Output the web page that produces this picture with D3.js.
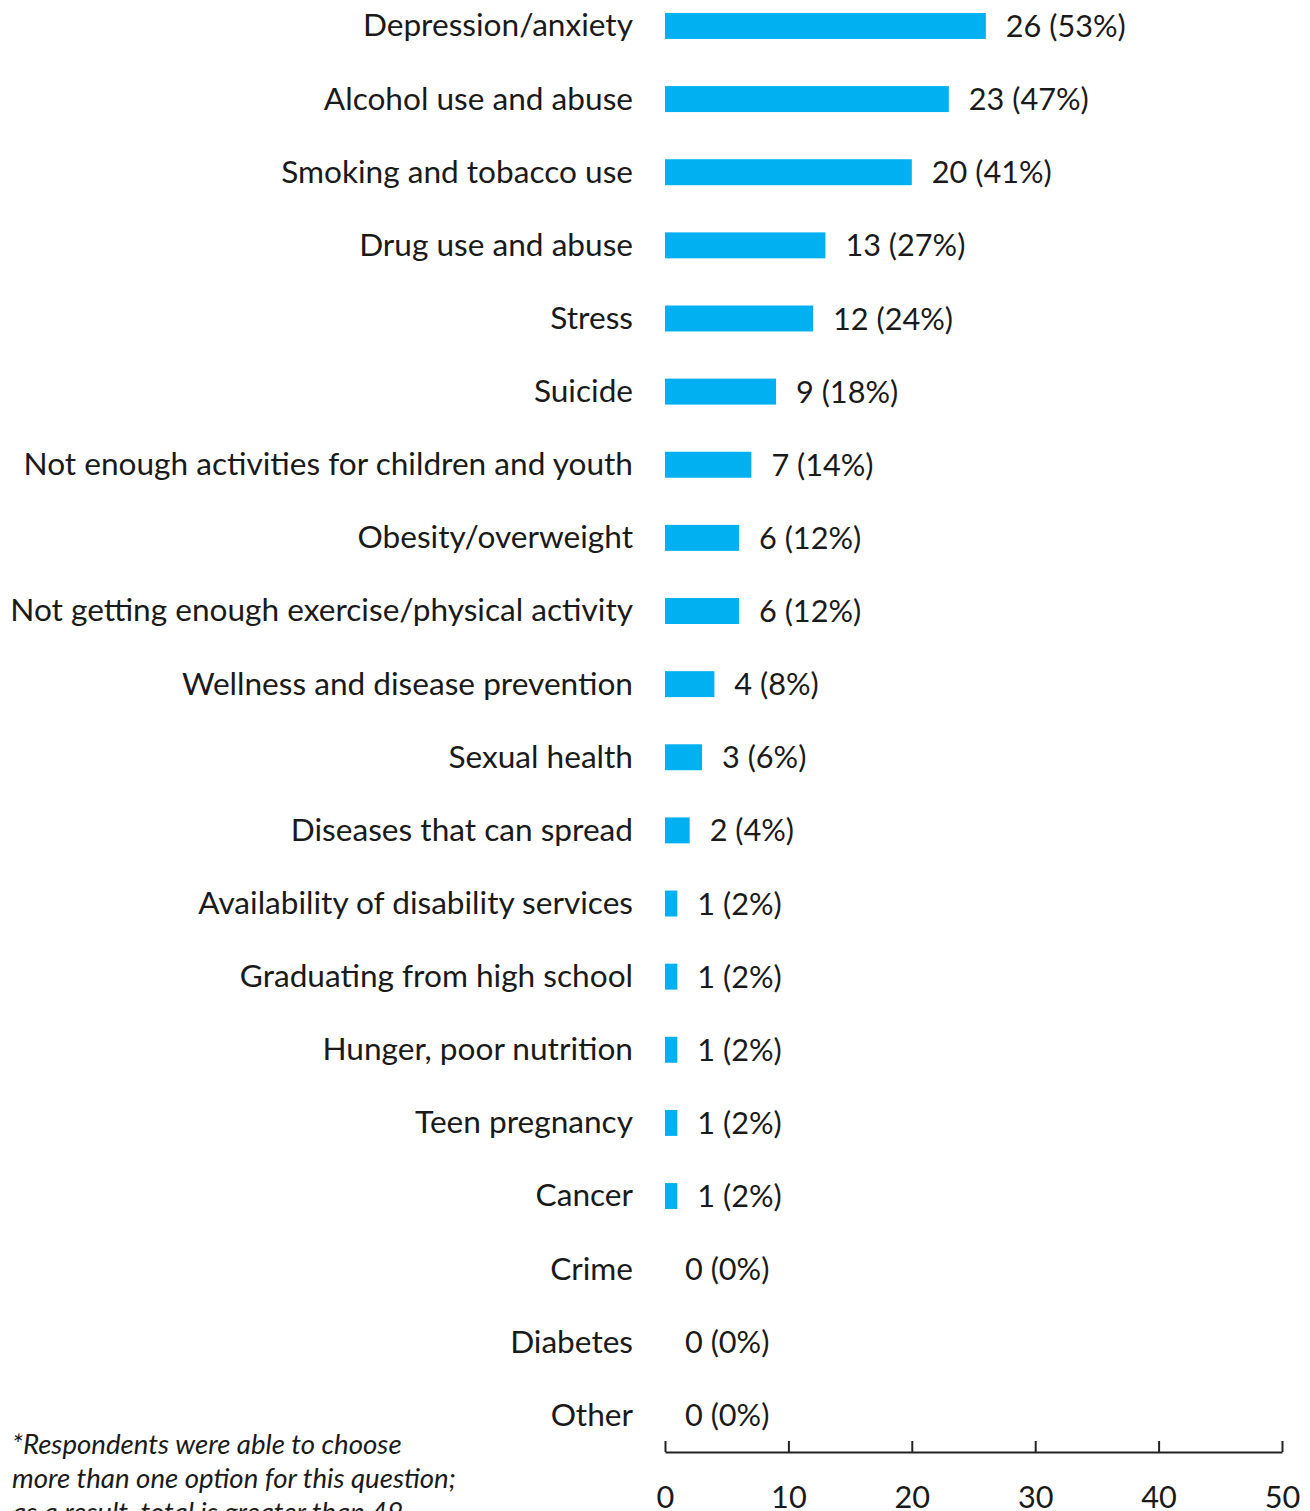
<!DOCTYPE html>
<html>
<head>
<meta charset="utf-8">
<script src="https://cdn.jsdelivr.net/npm/d3@7"></script>
<style>
  html, body { margin: 0; padding: 0; background: #fff; overflow: hidden; }
  svg { display: block; }
  text { font-family: Lato, "Open Sans", sans-serif; fill: #1a1a1a; }
</style>
</head>
<body>
<svg id="chart" width="1310" height="1511"></svg>
<script>
// Health concerns named by respondents (number of respondents, share of 49)
const categories = [
  "Depression/anxiety",
  "Alcohol use and abuse",
  "Smoking and tobacco use",
  "Drug use and abuse",
  "Stress",
  "Suicide",
  "Not enough activities for children and youth",
  "Obesity/overweight",
  "Not getting enough exercise/physical activity",
  "Wellness and disease prevention",
  "Sexual health",
  "Diseases that can spread",
  "Availability of disability services",
  "Graduating from high school",
  "Hunger, poor nutrition",
  "Teen pregnancy",
  "Cancer",
  "Crime",
  "Diabetes",
  "Other"
];
const counts   = [26, 23, 20, 13, 12, 9, 7, 6, 6, 4, 3, 2, 1, 1, 1, 1, 1, 0, 0, 0];
const percents = [53, 47, 41, 27, 24, 18, 14, 12, 12, 8, 6, 4, 2, 2, 2, 2, 2, 0, 0, 0];
const xTicks   = [0, 10, 20, 30, 40, 50];
const footnote = [
  "*Respondents were able to choose",
  "more than one option for this question;",
  "as a result, total is greater than 49."
];

const data = categories.map((c, i) => ({ category: c, count: counts[i], pct: percents[i] }));

const svg = d3.select("#chart");

// Layout
const xLeft = 665, xRight = 1282;
const plotTop = -10.6, plotBottom = 1452;
const labelRight = 633;
const barColor = "#00b0f0";

// Font sizing: size each text group so it spans its intended width
function fitSize(text, targetWidth, italic) {
  const t = svg.append("text").attr("font-size", 100).text(text);
  if (italic) t.attr("font-style", "italic");
  const w = t.node().getComputedTextLength();
  t.remove();
  return 100 * targetWidth / w;
}
const catSize = fitSize("Not getting enough exercise/physical activity", 623);
const valSize = fitSize("26 (53%)", 120);
const noteSize = fitSize("more than one option for this question;", 444, true);

const x = d3.scaleLinear().domain([0, 50]).range([xLeft, xRight]);
const y = d3.scaleBand()
  .domain(categories)
  .range([plotTop, plotBottom])
  .paddingInner(0.645)
  .paddingOuter(0.3225);

// Bars
svg.append("g")
  .selectAll("rect")
  .data(data)
  .join("rect")
  .attr("x", x(0))
  .attr("y", d => y(d.category))
  .attr("width", d => x(d.count) - x(0))
  .attr("height", y.bandwidth())
  .attr("fill", barColor);

// Category labels
svg.append("g")
  .selectAll("text")
  .data(data)
  .join("text")
  .attr("x", labelRight)
  .attr("y", d => y(d.category) + y.bandwidth() / 2)
  .attr("dy", "0.33em")
  .attr("text-anchor", "end")
  .attr("font-size", catSize)
  .text(d => d.category);

// Value labels
svg.append("g")
  .selectAll("text")
  .data(data)
  .join("text")
  .attr("x", d => x(d.count) + 20)
  .attr("y", d => y(d.category) + y.bandwidth() / 2)
  .attr("dy", "0.36em")
  .attr("font-size", valSize)
  .text(d => `${d.count} (${d.pct}%)`);

// X axis
const axis = d3.axisBottom(x).tickValues(xTicks).tickSize(0).tickPadding(0);
const gx = svg.append("g")
  .attr("transform", `translate(0,${plotBottom})`)
  .call(axis);
gx.select(".domain").attr("stroke", "#222").attr("stroke-width", 2);
gx.selectAll(".tick line").remove();
gx.selectAll(".tick")
  .append("line")
  .attr("y1", 0).attr("y2", -11)
  .attr("stroke", "#222").attr("stroke-width", 2);
gx.selectAll(".tick text")
  .attr("y", 45)
  .attr("dy", "0.35em")
  .attr("font-size", valSize)
  .attr("font-family", null)
  .attr("fill", "#1a1a1a");

// Footnote
svg.append("g")
  .selectAll("text")
  .data(footnote)
  .join("text")
  .attr("x", 12)
  .attr("y", (d, i) => 1454 + i * 34)
  .attr("font-size", noteSize)
  .attr("font-style", "italic")
  .text(d => d);
</script>
</body>
</html>
